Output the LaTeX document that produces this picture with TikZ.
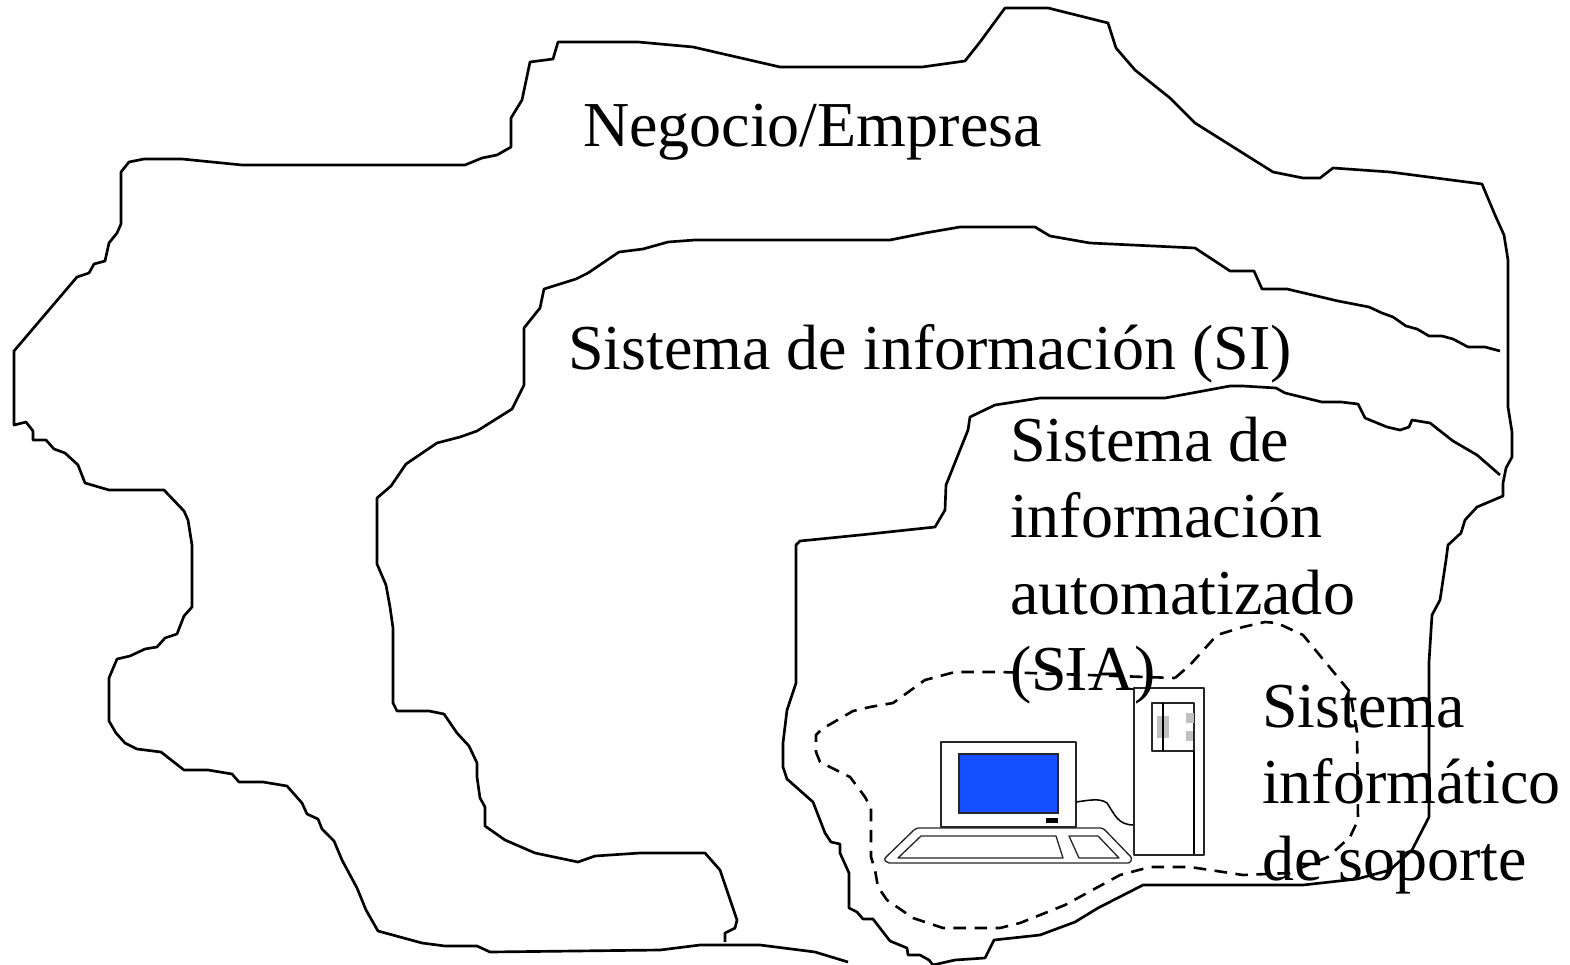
\documentclass[tikz,border=0pt]{standalone}
\usepackage{fontspec}
\setmainfont{Liberation Serif}
\tikzset{
  every picture/.style={x=0.05cm,y=-0.05cm},
  contour/.style={draw=black,line width=3.8pt,line join=round},
  boundary/.style={draw=black,line width=3.7pt,dash pattern=on 18pt off 12pt,line join=round},
  label/.style={anchor=north west,inner sep=0pt,outer sep=0pt,align=left,text=black,font=\fontsize{91.1}{108.8}\selectfont},
  thinpart/.style={draw=black!85,fill=white,line width=1.9pt,line join=round},
}
\definecolor{screenblue}{HTML}{1450FF}
\definecolor{markgray}{HTML}{C0C0C0}
\begin{document}
\begin{tikzpicture}
\useasboundingbox (0,0) rectangle (1570,965);
% outer contour
\draw[contour] (848,962)--(815,952)--(760,945)--(700,945)--(660,950)--(490,952)--(477,946)--(445,946)--(422,943)--(378,931)--(366,910)--(357,888)--(342,860)--(334,841)--(322,829)--(318,819)--(307,814)--(302,803)--(287,786)--(263,782)--(239,782)--(232,774)--(208,770)--(184,770)--(161,752)--(137,749)--(125,743)--(116,733)--(109,721)--(109,678)--(117,659)--(130,656)--(145,649)--(157,647)--(165,638)--(177,634)--(184,616)--(192,607)--(192,545)--(188,520)--(184,511)--(164,490)--(109,490)--(85,483)--(78,465)--(65,453)--(54,449)--(46,440)--(33,440)--(33,431)--(26,422)--(14,425)--(14,351)--(77,277)--(89,273)--(94,264)--(105,261)--(109,243)--(117,233)--(121,224)--(121,172)--(129,162)--(144,159)--(182,159)--(242,165)--(465,165)--(482,158)--(497,155)--(511,147)--(511,118)--(522,100)--(530,62)--(553,59)--(558,42)--(638,42)--(693,47)--(780,67)--(922,67)--(965,61)--(980,42)--(1005,8)--(1048,8)--(1108,23)--(1116,48)--(1135,70)--(1170,98)--(1195,123)--(1273,172)--(1303,178)--(1320,178)--(1333,168)--(1390,172)--(1482,184)--(1495,215)--(1504,235)--(1508,260)--(1508,407)--(1512,432)--(1512,457)--(1506,468)--(1503,483)--(1503,496)--(1477,507)--(1465,520)--(1461,533)--(1448,545)--(1446,560)--(1440,600)--(1432,615)--(1429,662)--(1429,817)--(1412,850)--(1390,870)--(1357,879)--(1303,885)--(1143,885)--(1098,908)--(1075,922)--(1040,935)--(994,940)--(985,958)--(955,960)--(933,965);
% SIA contour
\draw[contour] (933,965)--(929,960)--(920,955)--(908,955)--(907,948)--(890,941)--(873,919)--(863,919)--(857,912)--(849,908)--(849,873)--(840,853)--(840,844)--(831,842)--(825,833)--(813,802)--(787,779)--(783,767)--(783,743)--(787,710)--(796,683)--(796,545)--(800,541)--(860,535)--(935,527)--(945,510)--(946,485)--(968,430)--(970,417)--(995,405)--(1040,398)--(1165,398)--(1230,386)--(1243,386)--(1276,388)--(1285,393)--(1322,402)--(1341,402)--(1358,404)--(1365,418)--(1387,427)--(1400,430)--(1409,427)--(1412,420)--(1430,423)--(1453,441)--(1477,455)--(1500,475);
% SI contour
\draw[contour] (1500,351)--(1485,347)--(1468,347)--(1453,339)--(1442,336)--(1429,336)--(1417,329)--(1406,326)--(1393,317)--(1382,313)--(1369,307)--(1338,301)--(1287,289)--(1262,289)--(1254,271)--(1230,271)--(1195,248)--(1090,243)--(1050,236)--(1035,227)--(960,227)--(925,233)--(890,240)--(695,240)--(668,242)--(643,249)--(619,252)--(588,273)--(576,279)--(544,289)--(540,308)--(524,328)--(524,385)--(512,409)--(477,431)--(460,437)--(437,443)--(406,464)--(391,486)--(377,498)--(377,564)--(386,585)--(390,607)--(393,628)--(393,703)--(397,711)--(429,711)--(444,714)--(457,733)--(469,746)--(477,763)--(477,777)--(480,798)--(485,807)--(485,826)--(505,840)--(535,853)--(578,862)--(595,856)--(640,853)--(705,853)--(720,870)--(737,920)--(735,928)--(725,933)--(725,942);
% dashed boundary
\draw[boundary] (1175,678)--(1190,665)--(1217,635)--(1243,627)--(1265,622)--(1277,623)--(1303,635)--(1350,692)--(1357,732)--(1358,820)--(1350,837)--(1328,857)--(1303,867)--(1290,873)--(1243,875)--(1210,870)--(1190,867)--(1150,867)--(1120,875)--(1065,905)--(1020,923)--(1000,928)--(943,928)--(913,918)--(887,900)--(878,887)--(875,870)--(871,857)--(871,808)--(865,797)--(850,777)--(820,762)--(816,752)--(816,735)--(822,729)--(853,711)--(870,707)--(893,703)--(925,680)--(955,672)--(1000,672)--cycle;
% computer
\draw[thinpart] (941,742) rectangle (1076,827);
\draw[draw=black!85,fill=screenblue,line width=1.9pt] (959,754) rectangle (1058,813);
\fill[black] (1046,818) rectangle (1058,823);
\draw[thinpart,rounded corners=3pt] (916,828)--(1103,828)--(1132,858)--(1130,863)--(887,863)--(884,859)--cycle;
\draw[thinpart] (921,836)--(1056,836)--(1063,858)--(898,858)--cycle;
\draw[thinpart] (1069,836)--(1098,836)--(1119,858)--(1079,858)--cycle;
\draw[draw=black,line width=2.2pt] (1076,802) .. controls (1090,800) and (1100,798) .. (1107,803) .. controls (1115,815) and (1118,825) .. (1134,825);
\draw[thinpart] (1134,688) rectangle (1204,855);
\draw[thinpart] (1152,703) rectangle (1194,751);
\fill[markgray] (1157,716) rectangle (1169,738);
\fill[markgray] (1186,713) rectangle (1194,723);
\fill[markgray] (1186,731) rectangle (1193,741);
\draw[black,line width=4.2pt] (1163,703)--(1163,751);
\draw[black,line width=2.8pt] (1194,751)--(1194,854);
% labels
\node[label] (negocio) at (583,104) {Negocio/Empresa};
\node[label] (si) at (568,324) {Sistema de información (SI)};
\node[label] (sia) at (1010,417) {Sistema de\\información\\automatizado\\(SIA)};
\node[label] (soporte) at (1262,685) {Sistema\\informático\\de soporte};
\end{tikzpicture}
\end{document}
